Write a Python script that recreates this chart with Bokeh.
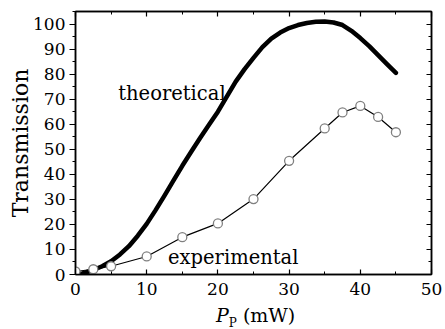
from bokeh.plotting import figure
from bokeh.models import LinearAxis, Range1d, Label, SingleIntervalTicker, ColumnDataSource, Div
from bokeh.layouts import column
from bokeh.embed import file_html
from bokeh.resources import INLINE

# Theoretical transmission curve
theory_p = [0, 1, 2.5, 3.75, 5, 6.25, 7.5, 8.75, 10, 11.25, 12.5, 13.75, 15, 16.25, 17.5, 18.75,
            20, 21.25, 22.5, 23.75, 25, 26.25, 27.5, 28.75, 30, 31.25, 32.5, 33.75, 35, 36.25,
            37.5, 38.75, 40, 41.25, 42.5, 43.75, 45]
theory_t = [0, 0.4, 1.8, 3.3, 5.3, 8.0, 11.3, 15.5, 20.2, 25.7, 31.5, 37.5, 43.4, 49.0, 54.5, 59.8,
            65.0, 71.0, 77.0, 82.0, 86.5, 90.8, 94.2, 96.6, 98.4, 99.6, 100.4, 100.9, 101.0, 100.6,
            99.6, 97.3, 94.4, 91.2, 87.6, 84.0, 80.5]

# Experimental points
exp_p = [0, 2.5, 5, 10, 15, 20, 25, 30, 35, 37.5, 40, 42.5, 45]
exp_t = [1.2, 2.1, 3.3, 7.2, 14.9, 20.4, 30.1, 45.4, 58.3, 64.7, 67.3, 62.9, 56.8]

FONT = "DejaVu Serif"

p = figure(width=445, height=303, output_backend="svg", toolbar_location=None,
           x_range=Range1d(0, 50), y_range=Range1d(0, 105),
           min_border_left=75, min_border_right=14, min_border_top=11, min_border_bottom=29)
p.grid.visible = False
p.outline_line_color = "black"
p.outline_line_width = 1.5
p.background_fill_color = "white"
p.border_fill_color = "white"

xa = p.xaxis[0]
xa.ticker = SingleIntervalTicker(interval=10, num_minor_ticks=2)
xa.major_tick_in = 5
xa.major_tick_out = 0
xa.minor_tick_in = 3
xa.minor_tick_out = 0
xa.major_label_standoff = 8
xa.major_label_text_font = FONT
xa.major_label_text_font_size = "17px"
xa.major_label_text_color = "black"
xa.axis_line_width = 1.5
xa.major_tick_line_width = 1.2

ya = p.yaxis[0]
ya.ticker = SingleIntervalTicker(interval=10, num_minor_ticks=2)
ya.major_tick_in = 0
ya.major_tick_out = 6
ya.minor_tick_in = 0
ya.minor_tick_out = 3
ya.major_label_standoff = 4
ya.major_label_text_font = FONT
ya.major_label_text_font_size = "17px"
ya.major_label_text_color = "black"
ya.axis_label = "Transmission"
ya.axis_label_text_font = FONT
ya.axis_label_text_font_size = "22px"
ya.axis_label_text_font_style = "normal"
ya.axis_label_text_color = "black"
ya.axis_label_standoff = -3
ya.axis_line_width = 1.5
ya.major_tick_line_width = 1.2

# top and right axes: ticks only, pointing inward, no labels drawn
for loc in ("above", "right"):
    ax = LinearAxis(ticker=SingleIntervalTicker(interval=10, num_minor_ticks=2),
                    major_tick_in=5, major_tick_out=0, minor_tick_in=3, minor_tick_out=0,
                    major_label_text_font_size="1px", major_label_text_color=None,
                    major_label_standoff=0, axis_line_width=1.5, major_tick_line_width=1.2)
    p.add_layout(ax, loc)

# theoretical curve
p.line(theory_p, theory_t, line_color="black", line_width=4.5, line_join="round", line_cap="round")

# experimental
src = ColumnDataSource(dict(x=exp_p, y=exp_t))
p.line("x", "y", source=src, line_color="black", line_width=1.2)
p.scatter("x", "y", source=src, marker="circle", size=9, fill_color="white",
          line_color="#808080", line_width=1.3)

p.add_layout(Label(x=6.0, y=72.4, text="theoretical", text_font=FONT, text_font_size="19.5px",
                   text_color="black", text_baseline="alphabetic"))
p.add_layout(Label(x=13.0, y=6.8, text="experimental", text_font=FONT, text_font_size="19.5px",
                   text_color="black", text_baseline="alphabetic"))

xlabel = Div(
    text='<span style="font-style:italic">P</span>'
         '<span style="font-size:12px;position:relative;top:5px">P</span>'
         '<span> (mW)</span>',
    width=445, height=26, margin=0,
    styles={"font-family": FONT, "font-size": "19px", "line-height": "19px",
            "padding-left": "216px", "padding-top": "3px", "color": "black",
            "background-color": "white", "box-sizing": "border-box"})

layout = column(p, xlabel, spacing=0)
open("out.html", "w").write(file_html(layout, INLINE))
